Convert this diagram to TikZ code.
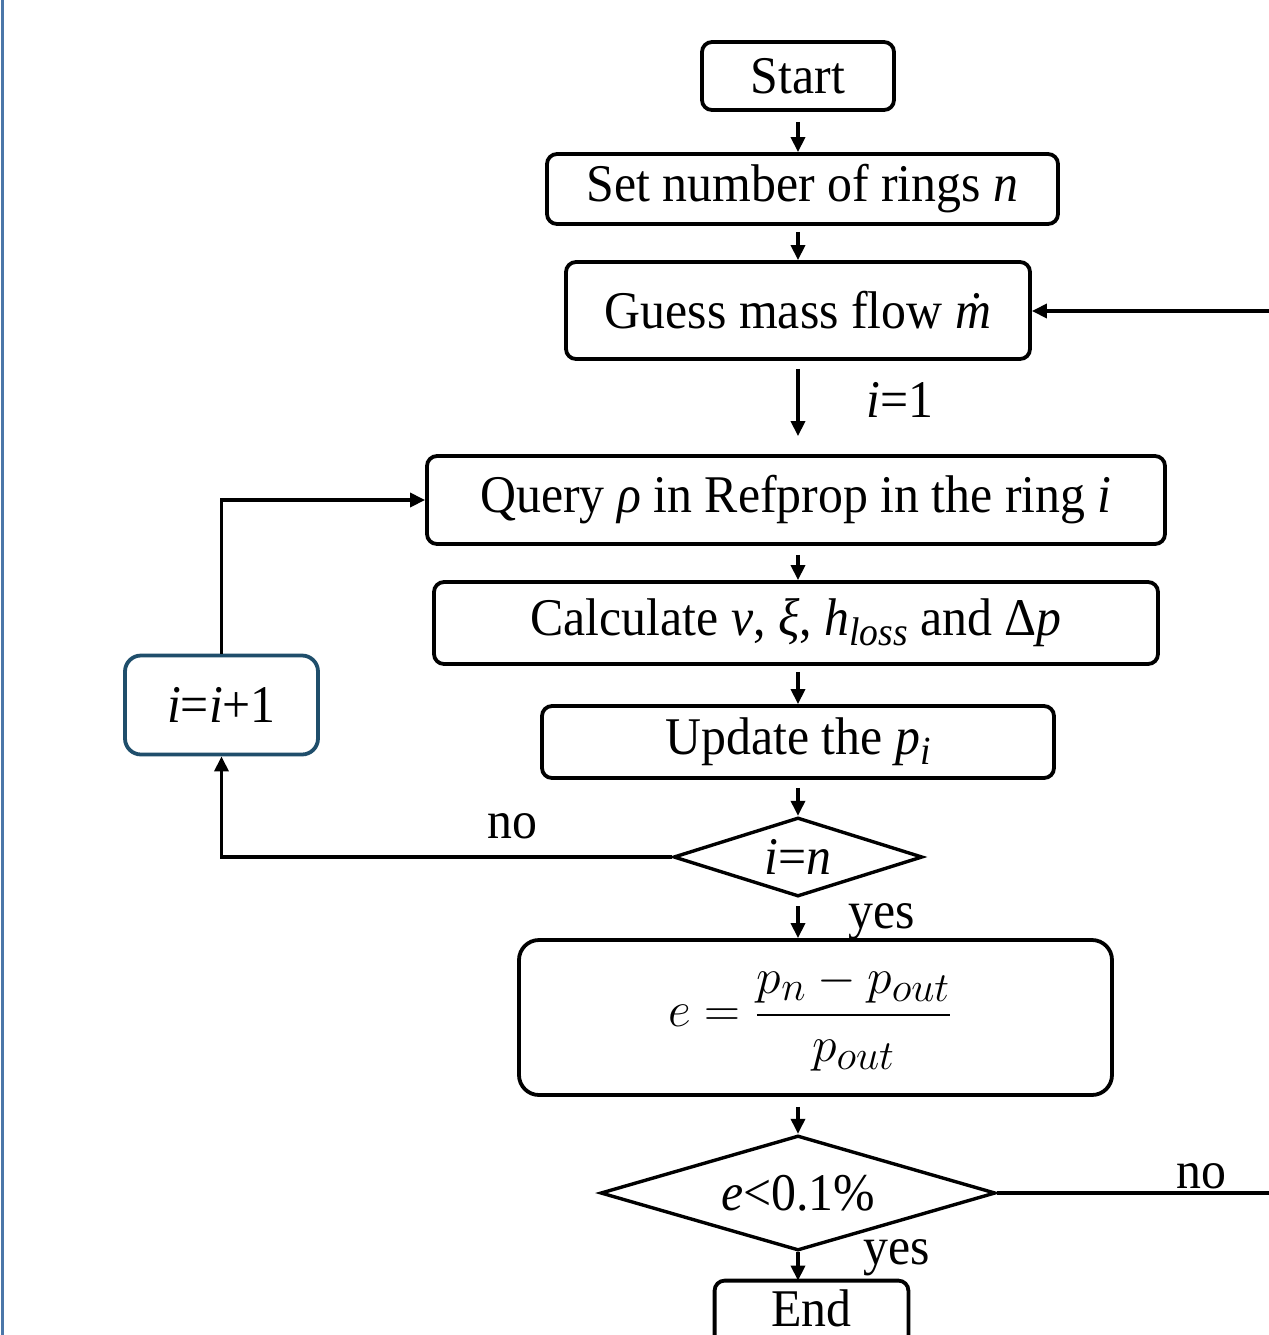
\documentclass[tikz,border=0pt]{standalone}
\usepackage{fontspec}
\usepackage{amsmath}
\setmainfont{Liberation Serif}[FakeStretch=0.94]
\usetikzlibrary{shapes.geometric,arrows.meta}
\definecolor{incblue}{RGB}{31,78,107}
\definecolor{leftblue}{RGB}{75,119,169}
\newcommand\lowsub[1]{\raisebox{-0.4ex}{\fontsize{20}{21}\selectfont\textit{#1}}}
\begin{document}
\begin{tikzpicture}[x=0.5pt,y=-0.5pt,
  box/.style={draw, line width=1.9pt, rounded corners=5pt, inner sep=0pt, align=center, font=\fontsize{26.5}{30}\selectfont},
  dec/.style={draw, diamond, line width=1.7pt, inner sep=0pt, font=\fontsize{26.5}{30}\selectfont},
  arr/.style={line width=1.7pt, -{Triangle[length=7.5pt,width=7pt]}},
  lbl/.style={inner sep=0pt, font=\fontsize{26.5}{30}\selectfont}]
\useasboundingbox (0,0) rectangle (1269,1335);
\clip (0,0) rectangle (1269,1335);
\fill[white] (0,0) rectangle (1269,1335);
\draw[line width=1.5pt, leftblue] (2.5,0) -- (2.5,1335);

\coordinate (col) at (798,0);
\node[box, minimum width=96pt, minimum height=34pt] (start) at (798,76) {Start};
\node[box, minimum width=255.5pt, minimum height=35pt] (setn) at (802.5,189) {Set number of rings \textit{n}};
\node[box, minimum width=232pt, minimum height=48.5pt] (guess) at (798,310.5) {Guess mass flow \textit{\.{m}}};
\node[box, minimum width=369pt, minimum height=44pt] (query) at (796,500) {Query \textit{ρ} in Refprop in the ring \textit{i}};
\node[box, minimum width=362pt, minimum height=41pt] (calc) at (796,623) {Calculate \textit{v}, \textit{ξ}, \textit{h}\lowsub{loss} and Δ\textit{p}};
\node[box, minimum width=256pt, minimum height=36pt] (upd) at (798,742) {Update the \textit{p}\lowsub{i}};
\node[box, draw=incblue, rounded corners=8pt, minimum width=96.5pt, minimum height=49.5pt] (inc) at (221.5,705) {\textit{i}=\textit{i}+1};
\node[dec, aspect=3.15, minimum width=124.5pt, minimum height=39.5pt] (d1) at (798,857) {\textit{i}=\textit{n}};
\node[box, rounded corners=10pt, minimum width=296.5pt, minimum height=77.5pt] (form) at (815.5,1017.5) {\fontsize{29}{34}\selectfont$e=\dfrac{p_n-p_{out}}{p_{out}}$\hspace{5pt}};
\node[dec, aspect=3.43, minimum width=197.5pt, minimum height=57.5pt] (d2) at (798,1193) {\textit{e}<0.1\%};
\node[inner sep=0pt, minimum width=96.5pt, minimum height=27pt, font=\fontsize{26.5}{30}\selectfont] (endb) at (811.5,1308) {End};
\draw[line width=1.9pt, rounded corners=5pt] ([yshift=-10pt]endb.south west) |- (endb.north east) -- ([yshift=-10pt]endb.south east);

\draw[arr, shorten <=5pt] (start.south) -- (start.south |- setn.north);
\draw[arr, shorten <=3pt] (col |- setn.south) -- (guess.north);
\draw[arr, shorten <=4pt, shorten >=9pt] (guess.south) -- (guess.south |- query.north);
\draw[arr, shorten <=4.5pt] (col |- query.south) -- (col |- calc.north);
\draw[arr, shorten <=3pt] (col |- calc.south) -- (col |- upd.north);
\draw[arr, shorten <=4pt] (col |- upd.south) -- (d1.north);
\draw[arr, shorten <=4pt] (d1.south) -- (col |- form.north);
\draw[arr, shorten <=5pt] (col |- form.south) -- (d2.north);
\draw[arr] (d2.south) -- (col |- endb.north);

\draw[arr] (d1.west) -| (inc.south);
\draw[arr] (inc.north) |- (query.west);
\coordinate (re1) at (1269,1193);
\coordinate (re2) at (1269,311);
\draw[line width=1.7pt] (d2.east) -- (re1);
\draw[arr] (re2) -- (re2 -| guess.east);

\node[lbl] (l1) at (900,400) {\textit{i}=1};
\node[lbl] (no1) at (512,826) {no};
\node[lbl] (yes1) at (882,922) {yes};
\node[lbl] (no2) at (1201,1176) {no};
\node[lbl] (yes2) at (897,1258) {yes};
\end{tikzpicture}
\end{document}
